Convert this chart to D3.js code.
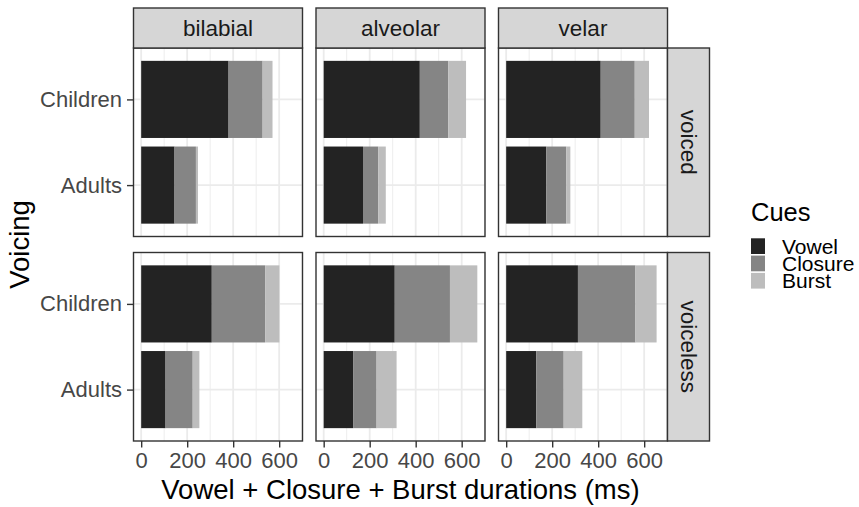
<!DOCTYPE html>
<html>
<head>
<meta charset="utf-8">
<script src="https://cdn.jsdelivr.net/npm/d3@7"></script>
<style>
  html, body { margin: 0; padding: 0; background: #ffffff; }
  svg { display: block; font-family: "Liberation Sans", Arial, Helvetica, sans-serif; }
</style>
</head>
<body>
<svg id="chart" width="859" height="507"></svg>
<script>
// ---------------- DATA ----------------
const places   = ["bilabial", "alveolar", "velar"];   // facet columns
const voicings = ["voiced", "voiceless"];             // facet rows
const groups   = ["Children", "Adults"];              // y categories (top to bottom)
const cues     = ["Vowel", "Closure", "Burst"];       // stacked series
const xTicks   = [0, 200, 400, 600];

// order: voiced(bilabial C,A, alveolar C,A, velar C,A), voiceless(same)
const vowelMs   = [380, 145, 418, 171, 411, 174,  307, 106, 309, 128, 312, 131];
const closureMs = [148,  93, 124,  66, 148,  87,  232, 118, 240, 102, 250, 119];
const burstMs   = [ 43,   9,  77,  33,  62,  18,   62,  29, 119,  87,  92,  81];

const cueColors = ["#232323", "#858585", "#bdbdbd"];

// --------------- BUILD ROWS ---------------
const rows = [];
let k = 0;
voicings.forEach(v => places.forEach(p => groups.forEach(g => {
  rows.push({ voicing: v, place: p, group: g,
              Vowel: vowelMs[k], Closure: closureMs[k], Burst: burstMs[k] });
  k++;
})));

// --------------- LAYOUT ---------------
const svg = d3.select("#chart");
const panelX0 = [133.5, 316, 498.5];
const panelW = 169;
const panelY0 = [48, 252.5];
const panelH = 188.5;
const stripTopY = 8, stripTopH = 40;
const stripRightX = 667.5, stripRightW = 42;
const font = "'Liberation Sans', Arial, Helvetica, sans-serif";

const maxTotal = d3.max(rows, d => d.Vowel + d.Closure + d.Burst);
const pad = maxTotal * 0.05;
const x = d3.scaleLinear().domain([-pad, maxTotal + pad]).range([0, panelW]);
const step = panelH / 2.2;
const yCenter = g => (groups.indexOf(g) + 0.6) * step;
const barH = 0.9 * step;

const stack = d3.stack().keys(cues);
const minorTicks = d3.range(100, maxTotal + pad, 200);

voicings.forEach((v, ri) => {
  places.forEach((p, ci) => {
    const gx = panelX0[ci], gy = panelY0[ri];
    const pg = svg.append("g").attr("transform", `translate(${gx},${gy})`);
    pg.append("rect").attr("width", panelW).attr("height", panelH).attr("fill", "#ffffff");
    pg.selectAll(".minor").data(minorTicks).enter().append("line")
      .attr("x1", d => x(d)).attr("x2", d => x(d))
      .attr("y1", 0).attr("y2", panelH)
      .attr("stroke", "#ebebeb").attr("stroke-width", 0.9);
    pg.selectAll(".majx").data(xTicks).enter().append("line")
      .attr("x1", d => x(d)).attr("x2", d => x(d))
      .attr("y1", 0).attr("y2", panelH)
      .attr("stroke", "#ebebeb").attr("stroke-width", 1.8);
    pg.selectAll(".majy").data(groups).enter().append("line")
      .attr("x1", 0).attr("x2", panelW)
      .attr("y1", d => yCenter(d)).attr("y2", d => yCenter(d))
      .attr("stroke", "#ebebeb").attr("stroke-width", 1.8);

    const sub = rows.filter(r => r.voicing === v && r.place === p);
    const series = stack(sub);
    series.forEach((s, si) => {
      pg.selectAll(".bar" + si).data(s).enter().append("rect")
        .attr("x", d => x(d[0]))
        .attr("width", d => x(d[1]) - x(d[0]))
        .attr("y", d => yCenter(d.data.group) - barH / 2)
        .attr("height", barH)
        .attr("fill", cueColors[si]);
    });

    pg.append("rect").attr("width", panelW).attr("height", panelH)
      .attr("fill", "none").attr("stroke", "#333333").attr("stroke-width", 1.4);

    if (ri === 0) {
      const sg = svg.append("g").attr("transform", `translate(${gx},${stripTopY})`);
      sg.append("rect").attr("width", panelW).attr("height", stripTopH)
        .attr("fill", "#d6d6d6").attr("stroke", "#333333").attr("stroke-width", 1.4);
      sg.append("text").attr("x", panelW / 2).attr("y", stripTopH / 2)
        .attr("text-anchor", "middle").attr("dominant-baseline", "central")
        .attr("font-size", 22.5).attr("fill", "#1a1a1a").text(p);
    }
    if (ri === voicings.length - 1) {
      const ax = svg.append("g").attr("transform", `translate(${gx},${gy + panelH})`)
        .call(d3.axisBottom(x).tickValues(xTicks).tickSize(6.5).tickPadding(4.5).tickFormat(d3.format("d")));
      ax.select(".domain").remove();
      ax.selectAll(".tick line").attr("stroke", "#333333").attr("stroke-width", 1.4);
      ax.selectAll(".tick text").attr("font-size", 22).attr("fill", "#474747").attr("font-family", font);
    }
    if (ci === 0) {
      const ys = d3.scalePoint().domain(groups).range([yCenter(groups[0]), yCenter(groups[1])]);
      const ay = svg.append("g").attr("transform", `translate(${gx},${gy})`)
        .call(d3.axisLeft(ys).tickSize(6.5).tickPadding(5));
      ay.select(".domain").remove();
      ay.selectAll(".tick line").attr("stroke", "#333333").attr("stroke-width", 1.4);
      ay.selectAll(".tick text").attr("font-size", 22).attr("fill", "#474747").attr("font-family", font);
    }
  });
  const rg = svg.append("g").attr("transform", `translate(${stripRightX},${panelY0[ri]})`);
  rg.append("rect").attr("width", stripRightW).attr("height", panelH)
    .attr("fill", "#d6d6d6").attr("stroke", "#333333").attr("stroke-width", 1.4);
  rg.append("text").attr("transform", `translate(${stripRightW / 2},${panelH / 2}) rotate(90)`)
    .attr("text-anchor", "middle").attr("dominant-baseline", "central")
    .attr("font-size", 22.5).attr("fill", "#1a1a1a").text(v);
});

// axis titles
svg.append("text").attr("x", (panelX0[0] + panelX0[2] + panelW) / 2).attr("y", 499)
  .attr("text-anchor", "middle").attr("font-size", 27.5).attr("fill", "#000").text("Vowel + Closure + Burst durations (ms)");
svg.append("text").attr("transform", `translate(${29},${(panelY0[0] + panelY0[1] + panelH) / 2}) rotate(-90)`)
  .attr("text-anchor", "middle").attr("font-size", 27.5).attr("fill", "#000").text("Voicing");

// legend
const lg = svg.append("g").attr("transform", "translate(751,205)");
lg.append("text").attr("x", 0).attr("y", 16).attr("font-size", 25.5).attr("fill", "#000").text("Cues");
const keyH = 17.3;
cues.forEach((c, i) => {
  lg.append("rect").attr("x", 0).attr("y", 32.5 + i * keyH + 0.8).attr("width", 14).attr("height", keyH - 1.6)
    .attr("fill", cueColors[i]);
  lg.append("text").attr("x", 31).attr("y", 32.5 + i * keyH + keyH / 2).attr("dominant-baseline", "central")
    .attr("font-size", 21).attr("fill", "#000").text(c);
});
</script>
</body>
</html>
